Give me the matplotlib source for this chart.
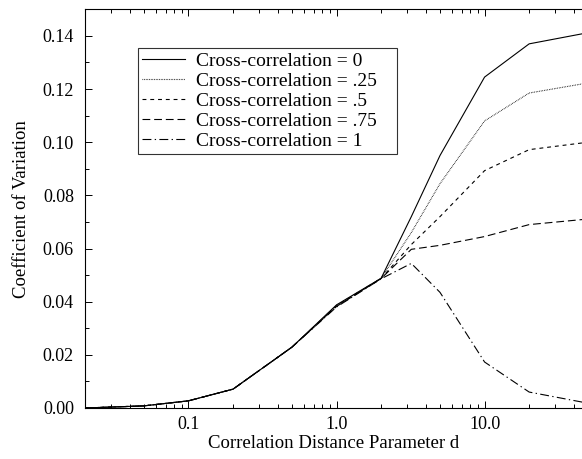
import matplotlib
matplotlib.use("Agg")
import matplotlib.pyplot as plt
from matplotlib.ticker import FixedLocator, MultipleLocator, LogLocator, NullFormatter

plt.rcParams['font.family'] = ['Liberation Serif', 'DejaVu Serif']

d_values = [0.02, 0.05, 0.1, 0.2, 0.5, 1.0, 2.0, 3.2, 5.0, 10.0, 20.0, 50.0]
cv_cc0 = [0.0, 0.0008, 0.0027, 0.0071, 0.0229, 0.0388, 0.0488, 0.072, 0.095, 0.1245, 0.137, 0.1412]
cv_cc025 = [0.0, 0.0008, 0.0027, 0.0071, 0.0229, 0.0386, 0.0488, 0.066, 0.0844, 0.108, 0.1185, 0.1223]
cv_cc05 = [0.0, 0.0008, 0.0027, 0.0071, 0.0229, 0.0384, 0.0487, 0.0615, 0.072, 0.0893, 0.0972, 0.1000]
cv_cc075 = [0.0, 0.0008, 0.0027, 0.0071, 0.0229, 0.0382, 0.0487, 0.0597, 0.0612, 0.0645, 0.069, 0.0711]
cv_cc1 = [0.0, 0.0008, 0.0027, 0.0071, 0.0229, 0.0380, 0.0486, 0.0544, 0.0435, 0.0173, 0.006, 0.0018]
labels = ["Cross-correlation = 0", "Cross-correlation = .25", "Cross-correlation = .5",
          "Cross-correlation = .75", "Cross-correlation = 1"]
x_tick_labels = ["0.1", "1.0", "10.0"]
x_ticks = [0.1, 1.0, 10.0]

fig = plt.figure(figsize=(5.82, 4.59), dpi=100)
ax = fig.add_axes([85/582, 1-408/459, 1-85/582, (408-9.3)/459])

styles = [
    dict(linestyle='-'),
    dict(linestyle=(0, (0.6, 0.9))),
    dict(linestyle=(0, (3.5, 3.5))),
    dict(linestyle=(0, (7, 3.5))),
    dict(linestyle=(0, (8, 3, 1.2, 3))),
]
series = [cv_cc0, cv_cc025, cv_cc05, cv_cc075, cv_cc1]
for s, st, lab in zip(series, styles, labels):
    ax.plot(d_values, s, color='black', linewidth=0.8, label=lab, **st)

ax.set_xscale('log')
ax.set_xlim(0.02, 45.5)
ax.set_ylim(0, 0.15)
ax.xaxis.set_major_locator(FixedLocator(x_ticks))
ax.set_xticklabels(x_tick_labels)
ax.xaxis.set_minor_locator(LogLocator(base=10, subs=range(2, 10)))
ax.xaxis.set_minor_formatter(NullFormatter())
ax.yaxis.set_major_locator(MultipleLocator(0.02))
ax.yaxis.set_minor_locator(MultipleLocator(0.01))
ax.yaxis.set_major_formatter(matplotlib.ticker.FormatStrFormatter('%.2f'))
ax.tick_params(which='both', direction='in', top=True, right=False, labelsize=13, width=0.7)
ax.tick_params(axis='y', which='major', pad=8)
ax.tick_params(axis='x', which='major', pad=6)
ax.tick_params(which='major', length=5)
ax.tick_params(which='minor', length=3)
ax.spines['right'].set_visible(False)
for sp in ['left', 'bottom', 'top']:
    ax.spines[sp].set_linewidth(0.8)

ax.set_xlabel('Correlation Distance Parameter d', fontsize=13.5, labelpad=1.5)
ax.set_ylabel('Coefficient of Variation', fontsize=13.5, labelpad=9)

ax_w, ax_h = 497, 398.7
leg_x0 = (138 - 85) / ax_w
leg_w = (397 - 138) / ax_w
leg_top = (408 - 48) / ax_h
leg_h = 106 / ax_h
leg = ax.legend(loc='upper left', bbox_to_anchor=(leg_x0, leg_top - leg_h, leg_w, leg_h),
                mode='expand', frameon=True, fancybox=False, edgecolor='black', fontsize=14,
                handlelength=2.2, borderpad=0.22, labelspacing=0.12, handletextpad=0.55,
                borderaxespad=0)
leg.get_frame().set_linewidth(0.8)

fig.savefig('out.png', dpi=100)
